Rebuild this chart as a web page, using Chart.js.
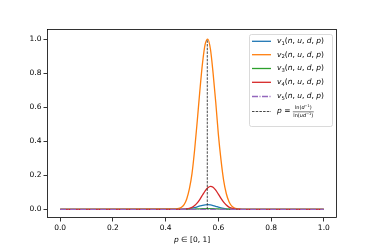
<!DOCTYPE html>
<html>
<head>
<meta charset="utf-8">
<script src="https://cdn.jsdelivr.net/npm/chart.js@4/dist/chart.umd.min.js"></script>
<style>
  body { margin: 0; background: #fff; }
  canvas { display: block; }
</style>
</head>
<body>
<canvas id="myChart" width="374" height="249"></canvas>
<script>
// p values where the curves are sampled
var pGrid = [0.00, 0.44, 0.45, 0.46, 0.47, 0.48, 0.49, 0.50, 0.51, 0.52, 0.53, 0.54, 0.55, 0.56,
             0.57, 0.58, 0.59, 0.60, 0.61, 0.62, 0.63, 0.64, 0.65, 0.66, 0.67, 0.68, 0.69, 1.00];

var v1 = [0, 0, 0.0002, 0.0005, 0.001, 0.0023, 0.0041, 0.0068, 0.0106, 0.0149, 0.0196, 0.0237, 0.0263, 0.027,
          0.0255, 0.0222, 0.0179, 0.0131, 0.0088, 0.0056, 0.0032, 0.0017, 0.0008, 0.0003, 0, 0, 0, 0];
var v2 = [0, 0.002, 0.005, 0.012, 0.028, 0.061, 0.12, 0.21, 0.35, 0.52, 0.70, 0.86, 0.97, 1.0,
          0.94, 0.80, 0.63, 0.44, 0.29, 0.17, 0.093, 0.046, 0.020, 0.0085, 0.0033, 0.001, 0, 0];
var v3 = [0, 0, 0, 0, 0, 0.0003, 0.0006, 0.001, 0.0016, 0.0022, 0.0029, 0.0035, 0.0039, 0.004,
          0.0039, 0.0035, 0.0029, 0.0022, 0.0016, 0.001, 0.0006, 0.0003, 0.0001, 0, 0, 0, 0, 0];
var v4 = [0, 0, 0, 0, 0.0005, 0.002, 0.0055, 0.0115, 0.022, 0.038, 0.059, 0.084, 0.109, 0.127,
          0.135, 0.130, 0.113, 0.089, 0.064, 0.042, 0.025, 0.013, 0.0064, 0.0028, 0.001, 0.0004, 0, 0];
var v5 = [0, 0, 0, 0, 0, 0, 0, 0, 0, 0, 0, 0, 0, 0,
          0, 0, 0, 0, 0, 0, 0, 0, 0, 0, 0, 0, 0, 0];

// p = ln(d^-1)/ln(ud^-1)
var pStar = 0.558;
var pStarLine = [0, 1.0];

var xTicks = [0.0, 0.2, 0.4, 0.6, 0.8, 1.0];
var yTicks = [0.0, 0.2, 0.4, 0.6, 0.8, 1.0];

var colors = ['#1f77b4', '#ff7f0e', '#2ca02c', '#d62728', '#9467bd'];
var FONT = "'DejaVu Sans', sans-serif";

function pts(ys) {
    return pGrid.map(function (p, i) { return { x: p, y: ys[i] }; });
}

function curve(ys, i, dash) {
    return {
        data: pts(ys),
        borderColor: colors[i],
        borderWidth: 1.3,
        borderDash: dash || [],
        pointRadius: 0,
        cubicInterpolationMode: 'monotone',
        fill: false,
        order: 6 - i
    };
}

// draw a run of math text pieces: [text, italic, scale, dy]
function drawPieces(ctx, pieces, x, y, size) {
    pieces.forEach(function (pc) {
        var s = size * (pc[2] || 1);
        ctx.font = (pc[1] ? 'italic ' : '') + s + 'px ' + FONT;
        ctx.fillText(pc[0], x, y + (pc[3] || 0));
        x += ctx.measureText(pc[0]).width;
    });
    return x;
}

function pieceWidth(ctx, pieces, size) {
    var w = 0;
    pieces.forEach(function (pc) {
        ctx.font = (pc[1] ? 'italic ' : '') + size * (pc[2] || 1) + 'px ' + FONT;
        w += ctx.measureText(pc[0]).width;
    });
    return w;
}

var decor = {
    id: 'decor',
    afterDraw: function (chart) {
        var ctx = chart.ctx, a = chart.chartArea;
        ctx.save();
        // frame
        ctx.strokeStyle = '#000';
        ctx.lineWidth = 0.8;
        ctx.strokeRect(Math.round(a.left) + 0.5, Math.round(a.top) + 0.5,
                       Math.round(a.right - a.left) - 1, Math.round(a.bottom - a.top) - 1);

        // x axis title
        ctx.fillStyle = '#000';
        ctx.textBaseline = 'middle';
        ctx.textAlign = 'left';
        var title = [['p', true], [' \u2208 [0, 1]', false]];
        var tw = pieceWidth(ctx, title, 7.5);
        drawPieces(ctx, title, (a.left + a.right) / 2 - tw / 2, 240, 7.5);

        // legend
        var bx = 249, by = 34, bw = 83, bh = 92;
        ctx.beginPath();
        ctx.roundRect(bx + 0.5, by + 0.5, bw, bh, 2);
        ctx.fillStyle = 'rgba(255,255,255,0.8)';
        ctx.fill();
        ctx.strokeStyle = '#d0d0d0';
        ctx.lineWidth = 0.8;
        ctx.stroke();

        var rows = [41.3, 54.7, 68.5, 82.3, 96.5];
        var subs = ['1', '2', '3', '4', '5'];
        rows.forEach(function (ry, i) {
            ctx.beginPath();
            ctx.strokeStyle = colors[i];
            ctx.lineWidth = 1.3;
            ctx.setLineDash(i === 4 ? [6, 1.5, 1, 1.5] : []);
            ctx.moveTo(252, ry);
            ctx.lineTo(271, ry);
            ctx.stroke();
            ctx.setLineDash([]);
            ctx.fillStyle = '#000';
            drawPieces(ctx, [
                ['v', true], [subs[i], false, 0.7, 2], ['(', false], ['n', true], [', ', false],
                ['u', true], [', ', false], ['d', true], [', ', false], ['p', true], [')', false]
            ], 277, ry, 7.5);
        });

        // dashed p* entry
        var ly = 111.5;
        ctx.beginPath();
        ctx.strokeStyle = '#333';
        ctx.lineWidth = 0.9;
        ctx.setLineDash([2.5, 1.2]);
        ctx.moveTo(252, ly);
        ctx.lineTo(271, ly);
        ctx.stroke();
        ctx.setLineDash([]);
        ctx.fillStyle = '#000';
        var x = drawPieces(ctx, [['p', true], [' = ', false]], 277, ly, 7.5);
        var num = [['ln(', false], ['d', true], ['\u22121', false, 0.7, -1.5], [')', false]];
        var den = [['ln(', false], ['ud', true], ['\u22121', false, 0.7, -1.5], [')', false]];
        var fs = 5;
        var nw = pieceWidth(ctx, num, fs), dw = pieceWidth(ctx, den, fs);
        var fw = Math.max(nw, dw) + 1;
        drawPieces(ctx, num, x + (fw - nw) / 2, ly - 3.5, fs);
        drawPieces(ctx, den, x + (fw - dw) / 2, ly + 4, fs);
        ctx.beginPath();
        ctx.strokeStyle = '#000';
        ctx.lineWidth = 0.5;
        ctx.moveTo(x, ly + 0.3);
        ctx.lineTo(x + fw, ly + 0.3);
        ctx.stroke();
        ctx.restore();
    }
};

var ctx = document.getElementById('myChart').getContext('2d');
var chart = new Chart(ctx, {
    type: 'line',
    data: {
        datasets: [
            curve(v1, 0),
            curve(v2, 1),
            curve(v3, 2),
            curve(v4, 3),
            curve(v5, 4, [6, 1.5, 1, 1.5]),
            {
                data: pStarLine.map(function (y) { return { x: pStar, y: y }; }),
                borderColor: '#333',
                borderWidth: 0.9,
                borderDash: [2.5, 1.2],
                pointRadius: 0,
                fill: false,
                order: 0
            }
        ]
    },
    options: {
        responsive: false,
        animation: false,
        devicePixelRatio: 1,
        layout: { padding: { top: 29, right: 37, left: 0, bottom: 0 } },
        plugins: { legend: { display: false }, tooltip: { enabled: false } },
        scales: {
            x: {
                type: 'linear',
                min: -0.05,
                max: 1.05,
                afterBuildTicks: function (s) { s.ticks = xTicks.map(function (v) { return { value: v }; }); },
                afterFit: function (s) { s.height = 31; },
                grid: { drawOnChartArea: false, tickLength: 3.5, color: '#000', lineWidth: 0.8 },
                border: { display: false },
                ticks: {
                    font: { family: FONT, size: 7.5 }, color: '#000', padding: 2, maxRotation: 0,
                    callback: function (v) { return v.toFixed(1); }
                }
            },
            y: {
                type: 'linear',
                min: -0.051,
                max: 1.059,
                afterBuildTicks: function (s) { s.ticks = yTicks.map(function (v) { return { value: v }; }); },
                afterFit: function (s) { s.width = 47; },
                grid: { drawOnChartArea: false, tickLength: 3.5, color: '#000', lineWidth: 0.8 },
                border: { display: false },
                ticks: {
                    font: { family: FONT, size: 7.5 }, color: '#000', padding: 2,
                    callback: function (v) { return v.toFixed(1); }
                }
            }
        }
    },
    plugins: [decor]
});
</script>
</body>
</html>
